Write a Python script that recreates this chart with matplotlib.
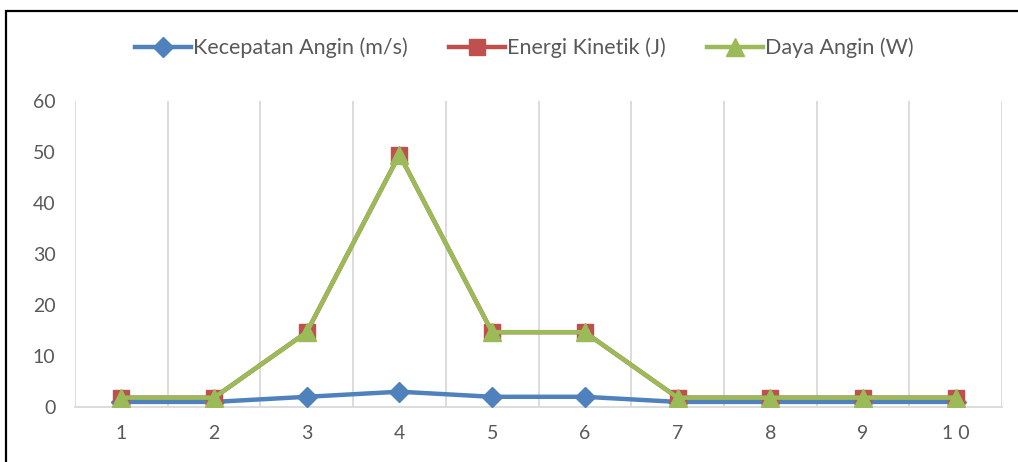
import matplotlib.pyplot as plt
from matplotlib.patches import Rectangle

# data
titik = [1, 2, 3, 4, 5, 6, 7, 8, 9, 10]
kecepatan = [1, 1, 2, 3, 2, 2, 1, 1, 1, 1]
energi = [1.83, 1.83, 14.67, 49.5, 14.67, 14.67, 1.83, 1.83, 1.83, 1.83]
daya = [1.83, 1.83, 14.67, 49.5, 14.67, 14.67, 1.83, 1.83, 1.83, 1.83]
labels = ['Kecepatan Angin (m/s)', 'Energi Kinetik (J)', 'Daya Angin (W)']

plt.rcParams['font.family'] = ['Lato', 'DejaVu Sans']

fig = plt.figure(figsize=(10.18, 4.62), dpi=100)
ax = fig.add_axes([75 / 1018, 1 - 407 / 462, (1002 - 75) / 1018, (407 - 101) / 462])

ax.plot(titik, kecepatan, color='#4F81BD', lw=3.2, marker='D', ms=10, label=labels[0], zorder=3)
ax.plot(titik, energi, color='#C0504D', lw=3.2, marker='s', ms=12, label=labels[1], zorder=4)
ax.plot(titik, daya, color='#9BBB59', lw=3.2, marker='^', ms=13, label=labels[2], zorder=5)

ax.set_xlim(0.5, 10.5)
ax.set_ylim(0, 60)
ax.set_xticks(titik)
ax.set_xticklabels([str(t) if t < 10 else '1 0' for t in titik])
ax.set_yticks(range(0, 61, 10))
ax.set_xticks([t + 0.5 for t in range(0, 11)], minor=True)
ax.grid(True, which='minor', axis='x', color='#D9D9D9', lw=1.3)
ax.tick_params(which='both', length=0)
ax.tick_params(labelsize=14, colors='#595959')
ax.tick_params(axis='x', pad=13)
ax.tick_params(axis='y', pad=14)
for s in ['top', 'right', 'left']:
    ax.spines[s].set_visible(False)
ax.spines['bottom'].set_color('#D9D9D9')
ax.spines['bottom'].set_linewidth(1.3)

ax.legend(loc='center', bbox_to_anchor=(0.515, 1 - 48 / 462), bbox_transform=fig.transFigure,
          ncol=3, frameon=False, fontsize=15.5, handlelength=2.6, columnspacing=1.9,
          handletextpad=0.1, labelcolor='#595959')

fig.patches.append(Rectangle((6 / 1018, -0.1), 1.2, 1 - 11 / 462 + 0.1,
                             transform=fig.transFigure, fill=False, ec='black', lw=1.6))

fig.savefig('out.png', dpi=100)
